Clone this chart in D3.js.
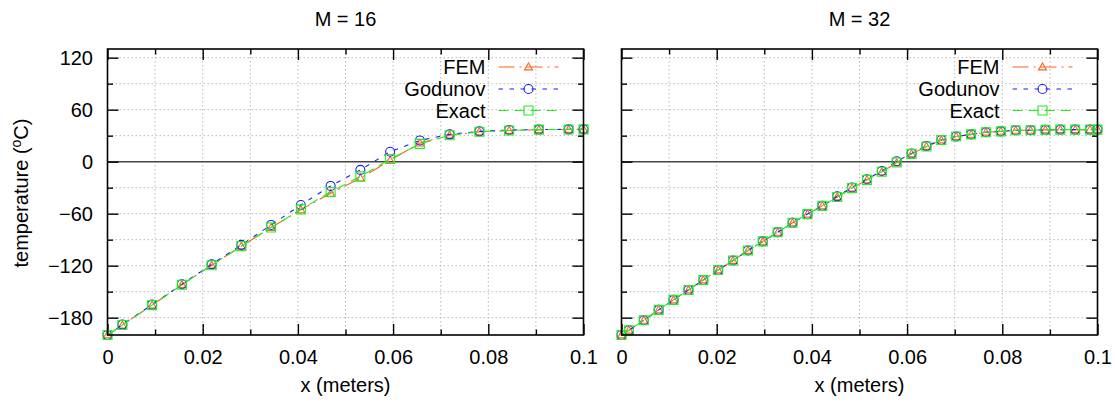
<!DOCTYPE html>
<html>
<head>
<meta charset="utf-8">
<script src="https://cdn.jsdelivr.net/npm/d3@7"></script>
<style>
  html, body { margin: 0; padding: 0; background: #fff; }
  svg { display: block; font-family: "Liberation Sans", Arial, sans-serif; }
</style>
</head>
<body>
<svg id="chart" width="1115" height="403"></svg>
<script>
// ---------------- data ----------------
const titles = ["M = 16", "M = 32"];
const seriesNames = ["FEM", "Godunov", "Exact"];

const xM16 = [0, 0.003125, 0.009375, 0.015625, 0.021875, 0.028125, 0.034375, 0.040625, 0.046875,
  0.053125, 0.059375, 0.065625, 0.071875, 0.078125, 0.084375, 0.090625, 0.096875, 0.1];
const femM16 = [-200, -188.5, -165.5, -142, -119.5, -97.5, -76, -55.5, -36.5, -19, 1.5, 21.5, 30.5, 34.5, 36, 37, 37.2, 37.3];
const godM16 = [-200, -188, -165, -141.5, -118.5, -96, -73, -50, -28, -9.5, 11.5, 24.5, 31.5, 35, 36.5, 37, 37.3, 37.3];
const exactM16 = [-200, -188.5, -165.5, -142, -119.5, -97.5, -76, -55, -35, -17, 3, 20.5, 30.5, 34.5, 36, 37, 37.2, 37.3];

const xM32 = [0, 0.0015625, 0.0046875, 0.0078125, 0.0109375, 0.0140625, 0.0171875, 0.0203125, 0.0234375,
  0.0265625, 0.0296875, 0.0328125, 0.0359375, 0.0390625, 0.0421875, 0.0453125, 0.0484375, 0.0515625,
  0.0546875, 0.0578125, 0.0609375, 0.0640625, 0.0671875, 0.0703125, 0.0734375, 0.0765625, 0.0796875,
  0.0828125, 0.0859375, 0.0890625, 0.0921875, 0.0953125, 0.0984375, 0.1];
const femM32 = [-200, -194.5, -183, -171, -159.5, -148, -136.5, -125, -114, -102.5, -92, -81.5, -70.5, -60.5,
  -51, -40.7, -30.5, -21, -11.8, -1.5, 9, 17.5, 25, 29, 31.5, 34, 35, 36.2, 36.2, 36.7, 37, 37, 37, 37];
const godM32 = [-200, -194.5, -183, -171, -159.5, -148, -136.5, -125, -114, -102.5, -92, -81.5, -70.5, -60.5,
  -51, -40, -29.8, -20.3, -10.8, 0.5, 9.5, 18, 25, 29, 31.5, 34, 35, 36.2, 36.2, 36.7, 37, 37, 37, 37];
const exactM32 = [-200, -194.5, -183, -171, -159.5, -148, -136.5, -125, -114, -102.5, -92, -81.5, -70.5, -60.5,
  -51, -40.7, -30.5, -21, -11.6, -1, 9, 17.5, 25, 29, 31.5, 34, 35, 36.2, 36.2, 36.7, 37, 37, 37, 37];

const xTickValues = [0, 0.02, 0.04, 0.06, 0.08, 0.1];
const xTickLabels = ["0", "0.02", "0.04", "0.06", "0.08", "0.1"];
const xMinorTicks = [0.01, 0.03, 0.05, 0.07, 0.09];
const yTickValues = [-180, -120, -60, 0, 60, 120];
const yTickLabels = ["\u2212180", "\u2212120", "\u221260", "0", "60", "120"];
const yMinorTicks = [-150, -90, -30, 30, 90];
const xDomain = [0, 0.1];
const yDomain = [-200, 130];

// ---------------- styles ----------------
const colors = ["#ff6420", "#1c1cf0", "#22ee22"];
const dashes = ["16,5,2,5", "4.5,6.5", "10,6"];
const FONT = 20;

const svg = d3.select("#chart");
const plotTop = 49, plotBottom = 335;
const y = d3.scaleLinear().domain(yDomain).range([plotBottom, plotTop]);

const panels = [
  { title: titles[0], left: 107.5, right: 583.5, xs: xM16, data: [femM16, godM16, exactM16], showY: true },
  { title: titles[1], left: 621.5, right: 1097.5, xs: xM32, data: [femM32, godM32, exactM32], showY: false }
];

function marker(g, kind, cx, cy, color) {
  if (kind === 0) {
    g.append("path")
      .attr("d", d3.symbol().type(d3.symbolTriangle).size(28)())
      .attr("transform", `translate(${cx},${cy + 0.6})`)
      .attr("fill", "none").attr("stroke", color).attr("stroke-width", 1.1);
  } else if (kind === 1) {
    g.append("circle").attr("cx", cx).attr("cy", cy).attr("r", 4.5)
      .attr("fill", "none").attr("stroke", color).attr("stroke-width", 1.1);
  } else {
    g.append("path")
      .attr("d", d3.symbol().type(d3.symbolSquare).size(81)())
      .attr("transform", `translate(${cx},${cy})`)
      .attr("fill", "none").attr("stroke", color).attr("stroke-width", 1.1);
  }
}

panels.forEach(p => {
  const x = d3.scaleLinear().domain(xDomain).range([p.left, p.right]);
  const g = svg.append("g");

  // grid
  const grid = g.append("g").attr("stroke", "#b8b8b8").attr("stroke-width", 1).attr("stroke-dasharray", "1.5,2.5");
  xTickValues.concat(xMinorTicks).forEach(v => {
    if (v <= xDomain[0] || v >= xDomain[1]) return;
    grid.append("line").attr("x1", x(v)).attr("x2", x(v)).attr("y1", plotTop).attr("y2", plotBottom);
  });
  yTickValues.concat(yMinorTicks).forEach(v => {
    if (v === 0) return;
    grid.append("line").attr("x1", p.left).attr("x2", p.right).attr("y1", y(v)).attr("y2", y(v));
  });

  // zero axis
  g.append("line").attr("x1", p.left).attr("x2", p.right).attr("y1", y(0)).attr("y2", y(0))
    .attr("stroke", "#444").attr("stroke-width", 1.5);

  // axes
  const styleAxis = sel => {
    sel.select(".domain").remove();
    sel.selectAll(".tick line").attr("stroke", "#000").attr("stroke-width", 1.4);
    sel.selectAll(".tick text").attr("fill", "#000").style("font-size", FONT + "px")
      .style("font-family", '"Liberation Sans", Arial, sans-serif');
  };
  g.append("g").attr("transform", `translate(0,${plotBottom})`)
    .call(d3.axisBottom(x).tickValues(xTickValues).tickSize(-11).tickPadding(14.5)
      .tickFormat((d, i) => xTickLabels[i])).call(styleAxis);
  g.append("g").attr("transform", `translate(0,${plotBottom})`)
    .call(d3.axisBottom(x).tickValues(xMinorTicks).tickSize(-5.5).tickFormat("")).call(styleAxis);
  g.append("g").attr("transform", `translate(0,${plotTop})`)
    .call(d3.axisTop(x).tickValues(xTickValues).tickSize(-11).tickFormat("")).call(styleAxis);
  g.append("g").attr("transform", `translate(0,${plotTop})`)
    .call(d3.axisTop(x).tickValues(xMinorTicks).tickSize(-5.5).tickFormat("")).call(styleAxis);
  g.append("g").attr("transform", `translate(${p.left},0)`)
    .call(d3.axisLeft(y).tickValues(yTickValues).tickSize(-11).tickPadding(14.5)
      .tickFormat((d, i) => p.showY ? yTickLabels[i] : "")).call(styleAxis)
    .selectAll(".tick text").attr("dy", "0.35em");
  g.append("g").attr("transform", `translate(${p.left},0)`)
    .call(d3.axisLeft(y).tickValues(yMinorTicks).tickSize(-5.5).tickFormat("")).call(styleAxis);
  g.append("g").attr("transform", `translate(${p.right},0)`)
    .call(d3.axisRight(y).tickValues(yTickValues).tickSize(-11).tickFormat("")).call(styleAxis);
  g.append("g").attr("transform", `translate(${p.right},0)`)
    .call(d3.axisRight(y).tickValues(yMinorTicks).tickSize(-5.5).tickFormat("")).call(styleAxis);

  // series
  p.data.forEach((vals, si) => {
    const pts = p.xs.map((xv, i) => [xv, vals[i]]);
    g.append("path")
      .attr("d", d3.line().x(d => x(d[0])).y(d => y(d[1]))(pts))
      .attr("fill", "none").attr("stroke", colors[si]).attr("stroke-width", 1.1)
      .attr("stroke-dasharray", dashes[si]);
    const mg = g.append("g");
    pts.forEach(d => marker(mg, si, x(d[0]), y(d[1]), colors[si]));
  });

  // frame
  g.append("rect").attr("x", p.left).attr("y", plotTop).attr("width", p.right - p.left).attr("height", plotBottom - plotTop)
    .attr("fill", "none").attr("stroke", "#000").attr("stroke-width", 1.6);

  // legend
  const rows = [67, 89, 110.5];
  seriesNames.forEach((name, si) => {
    const ry = rows[si];
    g.append("text").attr("x", p.right - 98).attr("y", ry + 7).attr("text-anchor", "end")
      .style("font-size", FONT + "px").text(name);
    g.append("line").attr("x1", p.right - 85).attr("x2", p.right - 25).attr("y1", ry).attr("y2", ry)
      .attr("stroke", colors[si]).attr("stroke-width", 1.1).attr("stroke-dasharray", dashes[si]);
    marker(g, si, p.right - 55, ry, colors[si]);
  });

  // title and x label
  g.append("text").attr("x", (p.left + p.right) / 2).attr("y", 25.5).attr("text-anchor", "middle")
    .style("font-size", FONT + "px").text(p.title);
  g.append("text").attr("x", (p.left + p.right) / 2).attr("y", 392).attr("text-anchor", "middle")
    .style("font-size", FONT + "px").text("x (meters)");

  if (p.showY) {
    const t = g.append("text").attr("transform", `translate(28,193) rotate(-90)`).attr("text-anchor", "middle")
      .style("font-size", FONT + "px");
    t.append("tspan").text("temperature (");
    t.append("tspan").attr("dy", -7).style("font-size", "14px").text("o");
    t.append("tspan").attr("dy", 7).text("C)");
  }
});
</script>
</body>
</html>
